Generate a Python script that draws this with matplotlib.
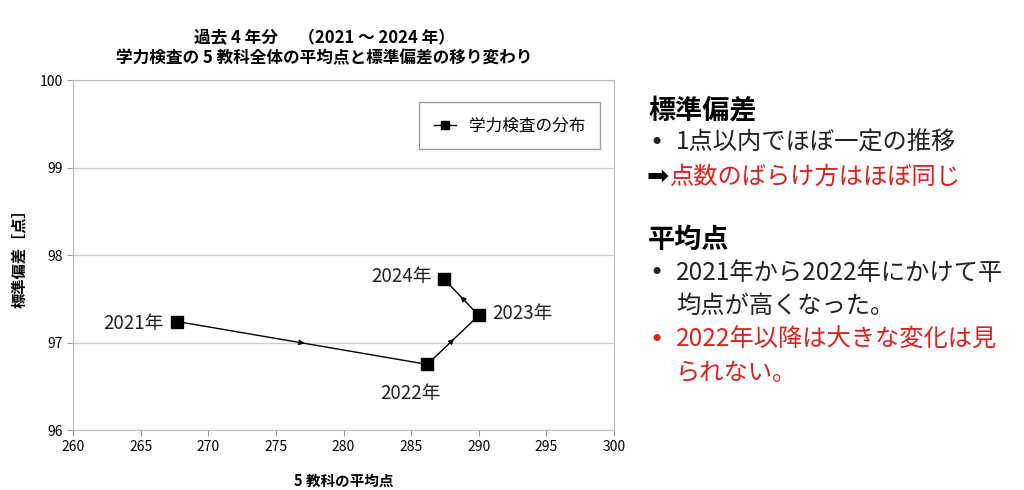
import matplotlib
matplotlib.use("Agg")
import matplotlib.pyplot as plt
import numpy as np

plt.rcParams['font.family'] = ['Noto Sans CJK JP', 'DejaVu Sans']

years = ["2021年", "2022年", "2023年", "2024年"]
mean_score = [267.7, 286.2, 290.0, 287.4]
std_dev = [97.24, 96.75, 97.31, 97.73]

# label placement: (dx px, dy px, ha)
label_pos = [(-14, -2, "right"), (-17, -29, "center"), (13, 2, "left"), (-12, 2, "right")]

fig = plt.figure(figsize=(10.24, 4.9), dpi=100)
ax = fig.add_axes([0.0713, 0.1224, 0.5283, 0.7143])

ax.plot(mean_score, std_dev, color="black", lw=1.0, marker="s", ms=9,
        label="学力検査の分布", zorder=3)

# direction arrows near segment midpoints
for i in range(len(mean_score) - 1):
    x0, y0 = mean_score[i], std_dev[i]
    x1, y1 = mean_score[i + 1], std_dev[i + 1]
    xm, ym = (x0 + x1) / 2, (y0 + y1) / 2
    ax.annotate("", xy=(xm + (x1 - x0) * 0.02, ym + (y1 - y0) * 0.02),
                xytext=(xm - (x1 - x0) * 0.02, ym - (y1 - y0) * 0.02),
                arrowprops=dict(arrowstyle="-|>", color="black", lw=0.8,
                                mutation_scale=8), zorder=4)

for x, y, t, (dx, dy, ha) in zip(mean_score, std_dev, years, label_pos):
    ax.annotate(t, (x, y), xytext=(dx * 0.72, dy * 0.72), textcoords="offset points",
                fontsize=13.5, color="#222222", ha=ha, va="center")

ax.set_xlim(260, 300)
ax.set_ylim(96, 100)
ax.set_xticks(np.arange(260, 301, 5))
ax.set_yticks([96, 97, 98, 99, 100])
ax.yaxis.grid(True, color="#cccccc", lw=0.9)
ax.set_axisbelow(True)
for s in ax.spines.values():
    s.set_color("#bbbbbb")
ax.tick_params(labelsize=10, color="#999999", length=4)

ax.set_xlabel("5 教科の平均点", fontsize=10.5, fontweight="bold", labelpad=13)
ax.set_ylabel("標準偏差［点］", fontsize=11, fontweight="bold", labelpad=9)

leg = ax.legend(loc="upper right", bbox_to_anchor=(0.99, 0.96), fontsize=12,
                frameon=True, fancybox=False, edgecolor="#888888",
                handlelength=1.3, borderpad=0.9, markerscale=0.7)

fig.text(0.317, 1 - 67 / 490, "過去 4 年分　 （2021 ～ 2024 年）\n学力検査の 5 教科全体の平均点と標準偏差の移り変わり",
         ha="center", va="bottom", fontsize=12, fontweight="bold",
         linespacing=1.1)

# right-hand commentary
bx = 649 / 1024
tx = 676 / 1024
red = "#e0201c"
dark = "#222222"


def line(x, ypx, text, col=dark, size=17.5, bold=False, family=None):
    fig.text(x, 1 - ypx / 490, text, color=col, fontsize=size,
             fontweight="bold" if bold else "normal", va="center", ha="left",
             family=family or ['Noto Sans CJK JP', 'DejaVu Sans'])


line(648 / 1024, 110, "標準偏差", "black", 19.5, True)
line(bx, 143, "•", dark, 17.5, family=['DejaVu Sans'])
line(tx, 143, "1点以内でほぼ一定の推移")
line(647 / 1024, 177, "➡", "black", 19, family=['DejaVu Sans'])
line(670 / 1024, 177, "点数のばらけ方はほぼ同じ", red)
line(648 / 1024, 240, "平均点", "black", 19.5, True)
line(bx, 273, "•", dark, 17.5, family=['DejaVu Sans'])
line(tx, 273, "2021年から2022年にかけて平")
line(tx, 306, "均点が高くなった。")
line(bx, 340, "•", red, 17.5, family=['DejaVu Sans'])
line(tx, 340, "2022年以降は大きな変化は見", red)
line(tx, 373, "られない。", red)

fig.savefig("out.png", dpi=100, facecolor="white")
